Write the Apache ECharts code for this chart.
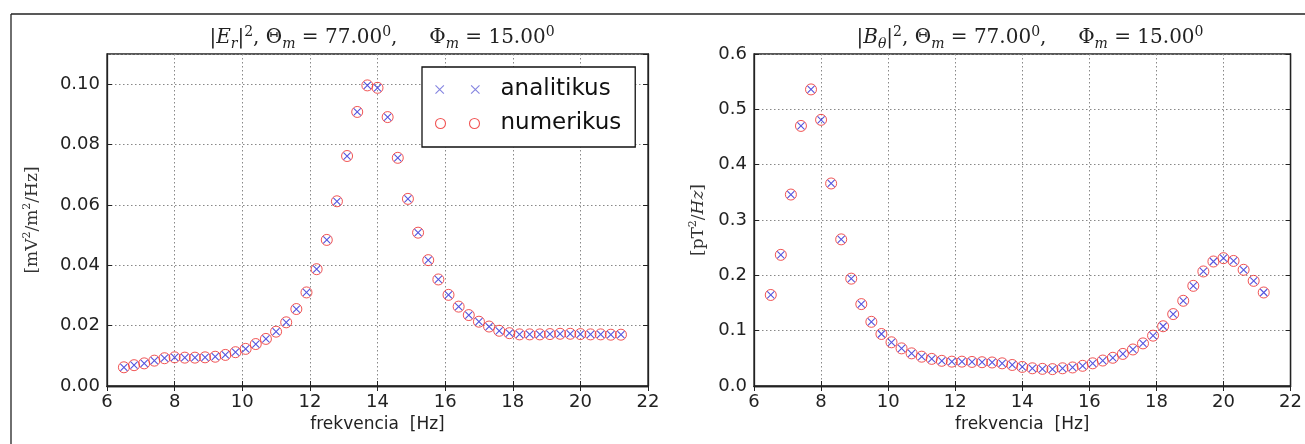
<!DOCTYPE html>
<html>
<head>
<meta charset="utf-8">
<script src="https://cdn.jsdelivr.net/npm/echarts@6/dist/echarts.min.js"></script>
<style>
html,body{margin:0;padding:0;background:#fff;}
#chart{width:1305px;height:444px;}
</style>
</head>
<body>
<div id="chart"></div>
<script>
// Frequencies [Hz]
const freq = [6.5,6.8,7.1,7.4,7.7,8.0,8.3,8.6,8.9,9.2,9.5,9.8,10.1,10.4,10.7,11.0,11.3,11.6,11.9,12.2,
  12.5,12.8,13.1,13.4,13.7,14.0,14.3,14.6,14.9,15.2,15.5,15.8,16.1,16.4,16.7,17.0,17.3,17.6,17.9,18.2,
  18.5,18.8,19.1,19.4,19.7,20.0,20.3,20.6,20.9,21.2];
// |E_r|^2  (analitikus and numerikus coincide)
const erAnalitikus = [0.0062,0.0069,0.0075,0.0084,0.0092,0.0095,0.0094,0.0094,0.0095,0.0097,
  0.0103,0.0112,0.0123,0.0139,0.0156,0.0180,0.0211,0.0255,0.0310,0.0387,
  0.0484,0.0612,0.0762,0.0908,0.0996,0.0988,0.0891,0.0756,0.0620,0.0508,
  0.0417,0.0353,0.0302,0.0263,0.0235,0.0213,0.0197,0.0183,0.0175,0.0171,
  0.0171,0.0171,0.0172,0.0173,0.0173,0.0172,0.0171,0.0171,0.0170,0.0170];
const erNumerikus = erAnalitikus.slice();
// |B_theta|^2
const bAnalitikus = [0.1645,0.237,0.346,0.470,0.536,0.481,0.366,0.265,0.194,0.148,
  0.116,0.094,0.079,0.068,0.059,0.053,0.049,0.0455,0.044,0.044,
  0.0435,0.043,0.0425,0.041,0.038,0.0345,0.032,0.031,0.0305,0.032,
  0.0335,0.0365,0.041,0.046,0.051,0.058,0.066,0.077,0.091,0.108,
  0.130,0.154,0.181,0.207,0.225,0.231,0.226,0.210,0.190,0.169];
const bNumerikus = bAnalitikus.slice();
// tick settings
const xTicks = {min: 6, max: 22, interval: 2};
const yTicksE = {min: 0, max: 0.11, interval: 0.02};
const yTicksB = {min: 0, max: 0.6, interval: 0.1};

const BLUE = '#2a2ad6';
const RED = '#ee2a2a';
const X_PATH = 'path://M0,0L10,10M10,0L0,10';
const SANS = 'DejaVu Sans';
const SERIF = 'DejaVu Serif';

const chart = echarts.init(document.getElementById('chart'), null, {renderer: 'canvas'});

function pairs(xs, ys){ return xs.map((x,i)=>[x, ys[i]]); }

const grids = [
  {left:107, top:54, width:541, height:332},
  {left:754, top:54, width:542, height:332}
];

function xAxes(gi, name){
  const base = {
    gridIndex: gi, type:'value', min:xTicks.min, max:xTicks.max, interval:xTicks.interval,
    axisLine:{show:true, lineStyle:{color:'#222', width:1.3}},
    axisTick:{show:true, inside:true, length:5, lineStyle:{color:'#222', width:1}},
  };
  return [
    Object.assign({}, base, {
      position:'bottom',
      axisLabel:{show:true, margin:7, fontFamily:SANS, fontSize:18, color:'#222'},
      splitLine:{show:true, lineStyle:{color:'#888', width:1, type:[1.5,2.5]}},
      name:name, nameLocation:'middle', nameGap:24,
      nameTextStyle:{fontFamily:SANS, fontSize:17, color:'#222'}
    }),
    Object.assign({}, base, {position:'top', axisLabel:{show:false}, splitLine:{show:false}})
  ];
}
const nameRich = {
  n:{fontFamily:SERIF, fontSize:17, color:'#333', lineHeight:22},
  i:{fontFamily:SERIF, fontSize:17, fontStyle:'italic', color:'#333', lineHeight:22},
  s:{fontFamily:SERIF, fontSize:11, color:'#333', verticalAlign:'top', lineHeight:12}
};
function yAxes(gi, t, digits, name, gap){
  const base = {
    gridIndex: gi, type:'value', min:t.min, max:t.max, interval:t.interval,
    axisLine:{show:true, lineStyle:{color:'#222', width:1.3}},
    axisTick:{show:true, inside:true, length:5, lineStyle:{color:'#222', width:1}},
  };
  return [
    Object.assign({}, base, {
      position:'left',
      axisLabel:{show:true, margin:7, fontFamily:SANS, fontSize:18, color:'#222', showMaxLabel: digits===2 ? false : true,
        formatter:(v)=>v.toFixed(digits)},
      splitLine:{show:true, lineStyle:{color:'#888', width:1, type:[1.5,2.5]}},
      name:name, nameLocation:'middle', nameGap:gap, nameRotate:90,
      nameTextStyle:{fontFamily:SERIF, fontSize:17, color:'#333', rich:nameRich}
    }),
    Object.assign({}, base, {position:'right', axisLabel:{show:false}, splitLine:{show:false}})
  ];
}

const titleRich = {
  n:{fontFamily:SERIF, fontSize:20, fontWeight:'normal', color:'#222', lineHeight:26},
  i:{fontFamily:SERIF, fontSize:20, fontWeight:'normal', fontStyle:'italic', color:'#222', lineHeight:26},
  sub:{fontFamily:SERIF, fontSize:14, fontWeight:'normal', fontStyle:'italic', color:'#222', verticalAlign:'bottom', lineHeight:15},
  sup:{fontFamily:SERIF, fontSize:14, fontWeight:'normal', color:'#222', verticalAlign:'top', lineHeight:15}
};

function scatterPair(xi, yi, ys1, ys2){
  return [
    {name:'numerikus', type:'scatter', xAxisIndex:xi, yAxisIndex:yi, data:pairs(freq, ys2),
     symbol:'circle', symbolSize:11, itemStyle:{color:'rgba(0,0,0,0)', borderColor:RED, borderWidth:1},
     emphasis:{disabled:true}, z:3},
    {name:'analitikus', type:'scatter', xAxisIndex:xi, yAxisIndex:yi, data:pairs(freq, ys1),
     symbol:X_PATH, symbolSize:7, itemStyle:{color:'rgba(0,0,0,0)', borderColor:BLUE, borderWidth:1.1},
     emphasis:{disabled:true}, z:4}
  ];
}

const option = {
  animation:false,
  backgroundColor:'#fff',
  title:[
    {text:'{n||}{i|E}{sub|r}{n||}{sup|2}{n|, Θ}{sub|m}{n| = 77.00}{sup|0}{n|,     Φ}{sub|m}{n| = 15.00}{sup|0}',
     left:377, top:20, textAlign:'center', textStyle:{fontWeight:'normal', rich:titleRich}},
    {text:'{n||}{i|B}{sub|θ}{n||}{sup|2}{n|, Θ}{sub|m}{n| = 77.00}{sup|0}{n|,     Φ}{sub|m}{n| = 15.00}{sup|0}',
     left:1025, top:20, textAlign:'center', textStyle:{fontWeight:'normal', rich:titleRich}}
  ],
  grid: grids.map(g=>Object.assign({show:true, borderColor:'#222', borderWidth:1.3, backgroundColor:'#fff'}, g)),
  xAxis: [].concat(xAxes(0,'frekvencia  [Hz]'), xAxes(1,'frekvencia  [Hz]')),
  yAxis: [].concat(
    yAxes(0, yTicksE, 2, '{n|[mV}{s|2}{n|/m}{s|2}{n|/Hz]}', 63),
    yAxes(1, yTicksB, 1, '{n|[pT}{s|2}{n|/}{i|Hz}{n|]}', 44)
  ),
  legend:{
    show:true, orient:'vertical', left:422, top:67, selectedMode:false,
    backgroundColor:'#fff', borderColor:'#111', borderWidth:1.3, borderRadius:0,
    padding:[11,14,12,11], itemWidth:44, itemHeight:10, itemGap:11,
    textStyle:{fontFamily:SANS, fontSize:23, color:'#111', padding:[0,0,0,16]},
    data:[
      {name:'analitikus', icon:'path://M1,1L9,9M9,1L1,9M35,1L43,9M43,1L35,9',
       itemStyle:{color:'none', borderColor:'#6464d8', borderWidth:1.1}},
      {name:'numerikus', icon:'path://M0,5A5,5,0,1,1,10,5A5,5,0,1,1,0,5ZM34,5A5,5,0,1,1,44,5A5,5,0,1,1,34,5Z',
       itemStyle:{color:'none', borderColor:RED, borderWidth:1.1}}
    ]
  },
  graphic:[
    {type:'line', shape:{x1:11, y1:14, x2:1305, y2:14}, style:{stroke:'#222', lineWidth:1.3}, silent:true},
    {type:'line', shape:{x1:11, y1:14, x2:11, y2:444}, style:{stroke:'#222', lineWidth:1.3}, silent:true}
  ],
  series: [].concat(scatterPair(0,0,erAnalitikus,erNumerikus), scatterPair(2,2,bAnalitikus,bNumerikus))
};
chart.setOption(option);
</script>
</body>
</html>
